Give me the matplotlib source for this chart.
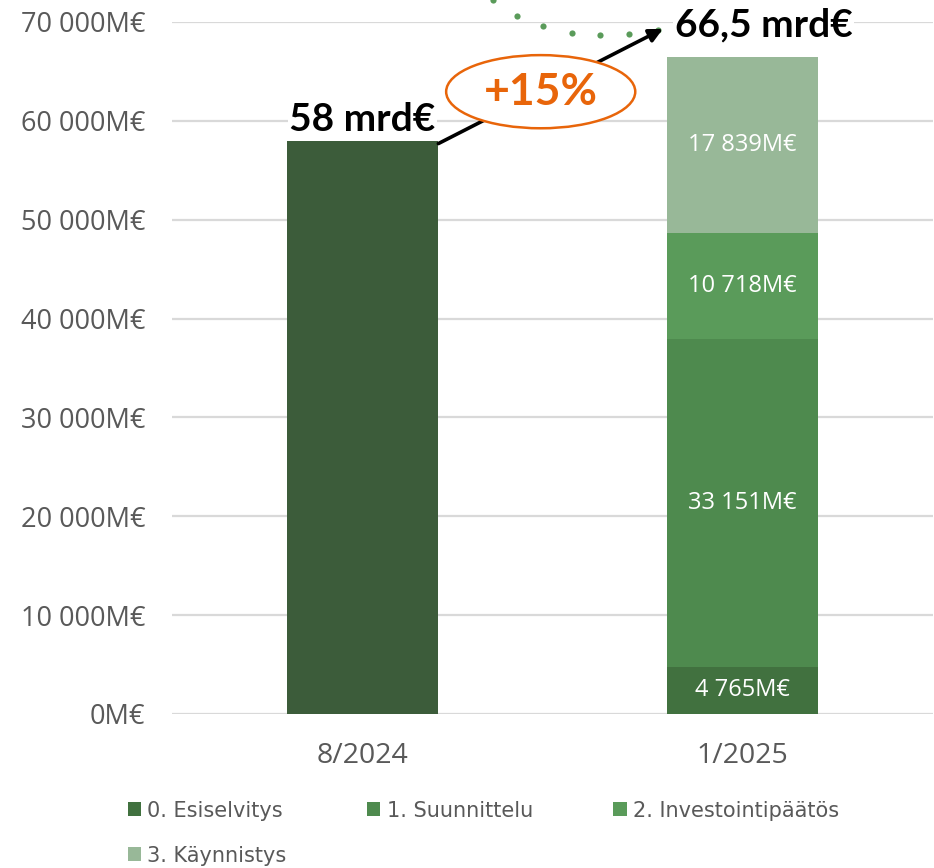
import matplotlib
matplotlib.use("Agg")
import matplotlib.pyplot as plt
from matplotlib.patches import Ellipse, Patch
import numpy as np

# data
kaudet = ["8/2024", "1/2025"]
vaiheet = ["0. Esiselvitys", "1. Suunnittelu", "2. Investointipäätös", "3. Käynnistys"]
arvot_2024 = [58000]
arvot_2025 = [4765, 33151, 10718, 17839]
varit = ["#41713f", "#4e8a4e", "#5a9b5a", "#98b898"]
vari_2024 = "#3c5c3a"
otsikot = ["58 mrd€", "66,5 mrd€"]
muutos = "+15%"
y_ticks = [0, 10000, 20000, 30000, 40000, 50000, 60000, 70000]

def fmt(v):
    return f"{v:,}".replace(",", " ") + "M€"

W, H = 934, 868
fig = plt.figure(figsize=(W / 100, H / 100), dpi=100)
ax = fig.add_axes([172 / W, (H - 714) / H, (933 - 172) / W, (714 - 22) / H])
ax.set_xlim(-0.5, 1.5)
ax.set_ylim(0, 70000)

plain = ["Open Sans", "DejaVu Sans"]
bw = 0.397

ax.bar(0, arvot_2024[0], width=bw, color=vari_2024, zorder=3)
pohja = 0
for v, c in zip(arvot_2025, varit):
    ax.bar(1, v, bottom=pohja, width=bw, color=c, zorder=3)
    ax.text(1, pohja + v / 2, fmt(v), ha="center", va="center", color="white",
            fontsize=17, family=plain, zorder=4)
    pohja += v

ax.set_yticks(y_ticks)
ax.set_yticklabels([fmt(t) for t in y_ticks], family=plain, fontsize=19.5, color="#595959")
ax.set_xticks([0, 1])
ax.set_xticklabels(kaudet, family=plain, fontsize=20.5, color="#595959")
ax.tick_params(length=0)
ax.tick_params(axis="y", pad=19)
ax.tick_params(axis="x", pad=20)
ax.grid(axis="y", color="#d9d9d9", linewidth=1.6, zorder=0)
for s in ax.spines.values():
    s.set_visible(False)

# totals
bold = ["Lato", "DejaVu Sans"]
ax.text(0, arvot_2024[0] + 2100, otsikot[0], ha="center", va="center", fontsize=28,
        fontweight="bold", family=bold, color="black", zorder=5,
        bbox=dict(facecolor="white", edgecolor="none", pad=1))
ax.text(0.822, sum(arvot_2025) + 3200, otsikot[1], ha="left", va="center", fontsize=28,
        fontweight="bold", family=bold, color="black", zorder=5, clip_on=False,
        bbox=dict(facecolor="white", edgecolor="none", pad=1))

# arrow
ax.annotate("", xy=(0.79, 69300), xytext=(0.2, 57700),
            arrowprops=dict(arrowstyle="-|>,head_length=0.8,head_width=0.4",
                            color="black", lw=2.6, shrinkA=0, shrinkB=0),
            zorder=6, annotation_clip=False)

# ellipse with percentage
ell = Ellipse((0.469, 62950), 0.497, 7400, facecolor="white", edgecolor="#e8650a",
              lw=1.8, zorder=7)
ax.add_patch(ell)
ax.text(0.469, 62950, muutos, ha="center", va="center", fontsize=32, fontweight="bold",
        family=bold, color="#e8650a", zorder=8)

# dotted curve (cropped at top)
kx = np.array([493, 517, 543, 572, 600, 629, 658])
ky = np.array([0, 16, 26, 33, 35, 34, 30])
dx = (kx - 362.5) / 380.5
dy = (714 - ky) / 692 * 70000
ax.scatter(dx, dy, s=20, color="#5a9b5a", zorder=5, clip_on=False, linewidths=0)

# legend (row-major order: matplotlib fills columns first)
jarj = [0, 3, 1, 2]
handles = [Patch(facecolor=varit[i], edgecolor="none") for i in jarj]
leg = fig.legend(handles, [vaiheet[i] for i in jarj], loc="upper left",
                 bbox_to_anchor=(111 / W, 1 - 784 / H),
                 ncol=3, frameon=False, handlelength=0.65, handleheight=0.65,
                 handletextpad=0.3, columnspacing=3.85, labelspacing=1.2,
                 borderpad=0.3, prop={"family": ["DejaVu Sans"], "size": 15})
for t in leg.get_texts():
    t.set_color("#595959")

fig.savefig("out.png", dpi=100)
